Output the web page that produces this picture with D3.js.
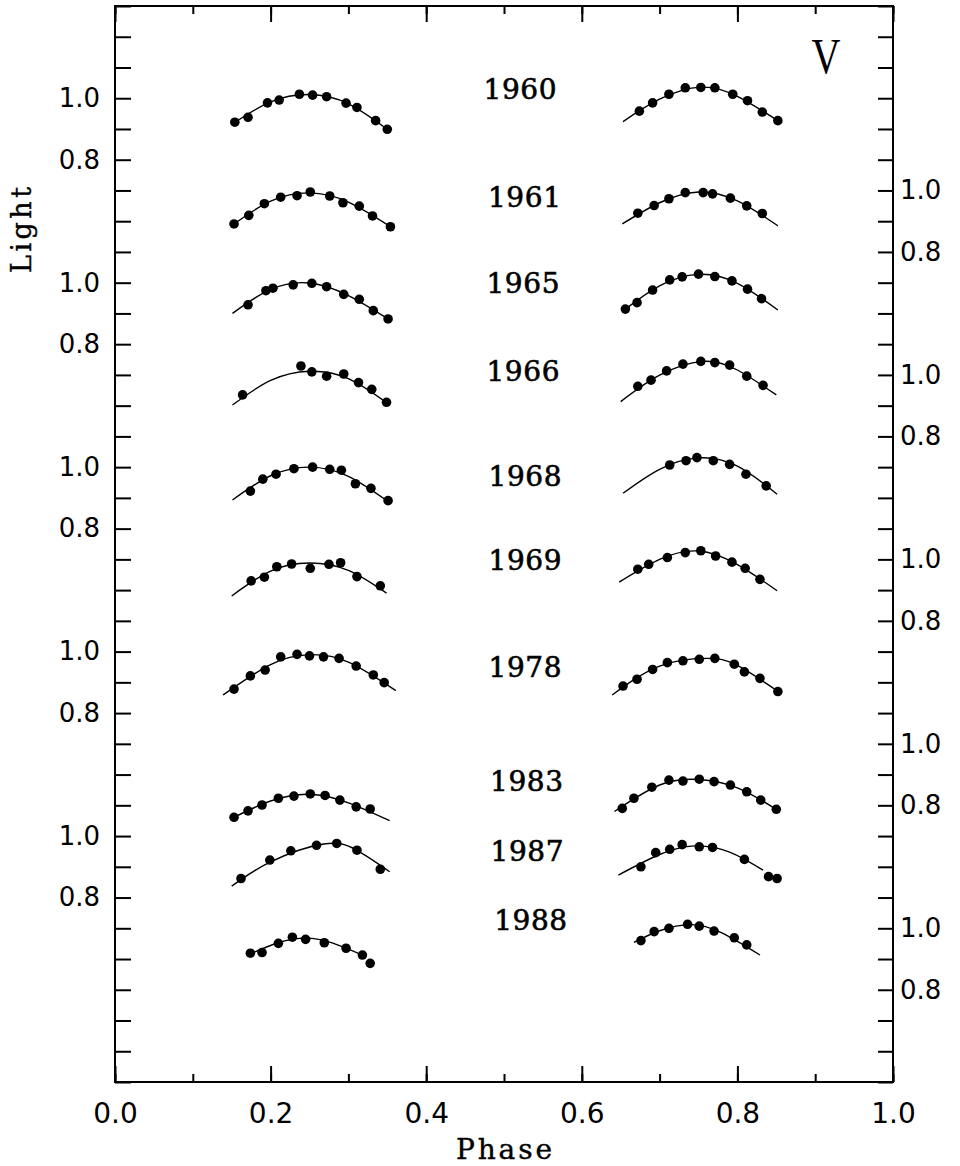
<!DOCTYPE html>
<html>
<head>
<meta charset="utf-8">
<script src="https://cdn.jsdelivr.net/npm/d3@7"></script>
<style>
  body { margin: 0; background: #fff; }
  svg { display: block; }
</style>
</head>
<body>
<script>
// years and their vertical offsets (in light units) on the shared axis
var years = ["1960", "1961", "1965", "1966", "1968", "1969", "1978", "1983", "1987", "1988"];
var offsets = [2.2, 1.9, 1.6, 1.3, 1.0, 0.7, 0.4, 0.1, -0.2, -0.5];

// observed points [phase, light]
var obs1960 = [[0.154,0.922],[0.171,0.938],[0.196,0.985],[0.211,0.994],[0.237,1.013],[0.254,1.010],[0.272,1.005],[0.297,0.984],[0.311,0.970],[0.335,0.927],[0.350,0.899],
               [0.674,0.958],[0.691,0.985],[0.712,1.013],[0.733,1.034],[0.753,1.035],[0.771,1.034],[0.794,1.013],[0.813,0.992],[0.832,0.955],[0.852,0.927]];
var obs1961 = [[0.153,0.891],[0.172,0.919],[0.192,0.957],[0.213,0.978],[0.234,0.983],[0.251,0.995],[0.276,0.982],[0.293,0.960],[0.314,0.949],[0.331,0.917],[0.354,0.882],
               [0.672,0.926],[0.693,0.951],[0.712,0.973],[0.733,0.993],[0.756,0.993],[0.768,0.989],[0.791,0.975],[0.812,0.950],[0.832,0.925]];
var obs1965 = [[0.171,0.928],[0.194,0.974],[0.203,0.982],[0.229,0.993],[0.253,0.998],[0.272,0.987],[0.294,0.962],[0.314,0.946],[0.332,0.909],[0.351,0.882],
               [0.656,0.914],[0.671,0.935],[0.691,0.976],[0.713,1.009],[0.729,1.019],[0.750,1.028],[0.771,1.020],[0.793,1.006],[0.813,0.979],[0.831,0.948]];
var obs1966 = [[0.164,0.935],[0.239,1.029],[0.253,1.010],[0.272,0.996],[0.294,1.003],[0.313,0.975],[0.330,0.953],[0.349,0.911],
               [0.672,0.963],[0.689,0.983],[0.709,1.013],[0.730,1.035],[0.753,1.044],[0.771,1.040],[0.790,1.032],[0.812,0.996],[0.833,0.966]];
var obs1968 = [[0.174,0.922],[0.190,0.961],[0.207,0.977],[0.230,0.995],[0.254,1.000],[0.276,0.993],[0.291,0.990],[0.309,0.946],[0.329,0.931],[0.351,0.891],
               [0.713,1.007],[0.734,1.021],[0.748,1.031],[0.769,1.021],[0.790,1.009],[0.811,0.977],[0.837,0.939]];
var obs1969 = [[0.175,0.930],[0.192,0.942],[0.208,0.976],[0.227,0.985],[0.251,0.971],[0.275,0.984],[0.290,0.989],[0.311,0.944],[0.341,0.914],
               [0.672,0.968],[0.686,0.984],[0.710,1.006],[0.733,1.022],[0.753,1.028],[0.772,1.011],[0.793,0.991],[0.810,0.971],[0.829,0.935]];
var obs1978 = [[0.153,0.878],[0.174,0.921],[0.193,0.940],[0.213,0.983],[0.234,0.991],[0.250,0.986],[0.268,0.983],[0.288,0.978],[0.310,0.953],[0.332,0.924],[0.346,0.899],
               [0.653,0.888],[0.671,0.910],[0.691,0.942],[0.710,0.964],[0.730,0.970],[0.751,0.975],[0.771,0.978],[0.796,0.959],[0.809,0.934],[0.829,0.913],[0.852,0.870]];
var obs1983 = [[0.153,0.761],[0.171,0.782],[0.189,0.801],[0.210,0.823],[0.230,0.830],[0.251,0.837],[0.270,0.832],[0.289,0.817],[0.310,0.795],[0.328,0.788],
               [0.652,0.790],[0.667,0.823],[0.690,0.859],[0.712,0.882],[0.730,0.879],[0.751,0.885],[0.770,0.877],[0.791,0.866],[0.812,0.844],[0.830,0.817],[0.850,0.787]];
var obs1987 = [[0.162,0.862],[0.199,0.922],[0.226,0.952],[0.259,0.970],[0.285,0.976],[0.311,0.954],[0.341,0.892],
               [0.676,0.900],[0.695,0.946],[0.713,0.957],[0.729,0.972],[0.751,0.965],[0.768,0.963],[0.809,0.924],[0.840,0.868],[0.851,0.862]];
var obs1988 = [[0.174,0.919],[0.189,0.921],[0.210,0.951],[0.228,0.971],[0.245,0.964],[0.269,0.953],[0.297,0.935],[0.318,0.913],[0.328,0.886],
               [0.676,0.960],[0.693,0.989],[0.712,1.000],[0.736,1.013],[0.751,1.007],[0.770,0.991],[0.796,0.969],[0.812,0.946]];

// fitted curves: [left branch, right branch]
var fit1960 = [[[0.154,0.921],[0.2,0.988],[0.25,1.012],[0.3,0.982],[0.35,0.899]], [[0.653,0.924],[0.7,0.997],[0.753,1.036],[0.8,1.006],[0.852,0.927]]];
var fit1961 = [[[0.153,0.891],[0.2,0.965],[0.25,0.992],[0.3,0.962],[0.354,0.882]], [[0.652,0.891],[0.7,0.960],[0.75,0.995],[0.8,0.966],[0.852,0.885]]];
var fit1965 = [[[0.151,0.900],[0.2,0.978],[0.25,0.999],[0.3,0.958],[0.351,0.882]], [[0.656,0.914],[0.7,0.990],[0.75,1.027],[0.8,0.998],[0.852,0.911]]];
var fit1966 = [[[0.151,0.902],[0.2,0.982],[0.25,1.012],[0.3,0.988],[0.35,0.908]], [[0.650,0.913],[0.7,0.999],[0.755,1.044],[0.8,1.016],[0.850,0.935]]];
var fit1968 = [[[0.151,0.893],[0.2,0.972],[0.25,1.000],[0.3,0.970],[0.351,0.888]], [[0.653,0.915],[0.7,0.993],[0.75,1.030],[0.8,1.003],[0.851,0.912]]];
var fit1969 = [[[0.150,0.881],[0.2,0.962],[0.25,0.988],[0.3,0.964],[0.349,0.890]], [[0.648,0.926],[0.7,1.000],[0.75,1.027],[0.8,0.983],[0.851,0.898]]];
var fit1978 = [[[0.139,0.859],[0.2,0.958],[0.25,0.990],[0.3,0.966],[0.361,0.873]], [[0.639,0.859],[0.7,0.953],[0.76,0.978],[0.8,0.955],[0.855,0.866]]];
var fit1983 = [[[0.153,0.761],[0.2,0.814],[0.25,0.836],[0.3,0.808],[0.353,0.750]], [[0.642,0.780],[0.7,0.866],[0.75,0.884],[0.8,0.857],[0.85,0.787]]];
var fit1987 = [[[0.150,0.837],[0.2,0.916],[0.268,0.974],[0.31,0.955],[0.353,0.884]], [[0.647,0.873],[0.7,0.940],[0.745,0.968],[0.79,0.948],[0.833,0.889]]];
var fit1988 = [[[0.174,0.917],[0.21,0.953],[0.245,0.968],[0.28,0.952],[0.318,0.913]], [[0.667,0.954],[0.7,0.992],[0.74,1.012],[0.78,0.985],[0.829,0.913]]];

var observations = [obs1960, obs1961, obs1965, obs1966, obs1968, obs1969, obs1978, obs1983, obs1987, obs1988];
var fits = [fit1960, fit1961, fit1965, fit1966, fit1968, fit1969, fit1978, fit1983, fit1987, fit1988];

// where each year label sits, in [phase, light] of that year
var yearLabelAt = [[0.5206,0.997],[0.5263,0.946],[0.5244,0.966],[0.5244,0.980],[0.527,0.939],[0.527,0.966],[0.527,0.917],[0.529,0.846],[0.5296,0.919],[0.5343,0.994]];

// tick labels
var xMajorTicks = [0, 0.2, 0.4, 0.6, 0.8, 1.0];
var xTickLabels = ["0.0", "0.2", "0.4", "0.6", "0.8", "1.0"];
var leftTickValues = [3.2, 3.0, 2.6, 2.4, 2.0, 1.8, 1.4, 1.2, 0.8, 0.6];
var leftTickLabels = ["1.0", "0.8", "1.0", "0.8", "1.0", "0.8", "1.0", "0.8", "1.0", "0.8"];
var rightTickValues = [2.9, 2.7, 2.3, 2.1, 1.7, 1.5, 1.1, 0.9, 0.5, 0.3];
var rightTickLabels = ["1.0", "0.8", "1.0", "0.8", "1.0", "0.8", "1.0", "0.8", "1.0", "0.8"];

var width = 960, height = 1166;
var plotLeft = 115, plotRight = 893, plotTop = 6, plotBottom = 1082;

var svg = d3.select("body")
  .append("svg")
  .attr("width", width)
  .attr("height", height);

var x = d3.scaleLinear().domain([0, 1]).range([plotLeft, plotRight]);
var y = d3.scaleLinear().domain([0, 3.5]).range([plotBottom, plotTop]);

var yTicks = d3.range(36).map(function(i) { return i / 10; });
var xMinor = d3.range(11).map(function(i) { return i / 10; });

function labelFor(values, labels) {
  return function(d) {
    for (var i = 0; i < values.length; i++) {
      if (Math.abs(values[i] - d) < 1e-6) return labels[i];
    }
    return "";
  };
}

function styleAxis(g, size) {
  g.select(".domain").remove();
  g.selectAll(".tick line").attr("stroke", "#000").attr("stroke-width", 2);
  g.selectAll("text")
    .attr("fill", "#000")
    .attr("font-family", "'DejaVu Sans', sans-serif")
    .attr("font-size", size);
}

// left axis
svg.append("g")
  .attr("transform", "translate(" + plotLeft + ",0)")
  .call(d3.axisLeft(y).tickValues(yTicks).tickSize(-16).tickSizeOuter(0).tickPadding(15)
        .tickFormat(labelFor(leftTickValues, leftTickLabels)))
  .call(styleAxis, 26);

// right axis
svg.append("g")
  .attr("transform", "translate(" + plotRight + ",0)")
  .call(d3.axisRight(y).tickValues(yTicks).tickSize(-15).tickSizeOuter(0).tickPadding(7)
        .tickFormat(labelFor(rightTickValues, rightTickLabels)))
  .call(styleAxis, 26);

// bottom axis, minor + major
svg.append("g")
  .attr("transform", "translate(0," + plotBottom + ")")
  .call(d3.axisBottom(x).tickValues(xMinor).tickSize(-8).tickSizeOuter(0).tickFormat(""))
  .call(styleAxis, 28);
svg.append("g")
  .attr("transform", "translate(0," + plotBottom + ")")
  .call(d3.axisBottom(x).tickValues(xMajorTicks).tickSize(-16).tickSizeOuter(0).tickPadding(21)
        .tickFormat(function(d, i) { return xTickLabels[i]; }))
  .call(styleAxis, 28);

// top axis
svg.append("g")
  .attr("transform", "translate(0," + plotTop + ")")
  .call(d3.axisTop(x).tickValues(xMinor).tickSize(-8).tickSizeOuter(0).tickFormat(""))
  .call(styleAxis, 28);
svg.append("g")
  .attr("transform", "translate(0," + plotTop + ")")
  .call(d3.axisTop(x).tickValues(xMajorTicks).tickSize(-16).tickSizeOuter(0).tickFormat(""))
  .call(styleAxis, 28);

// frame
svg.append("rect")
  .attr("x", plotLeft)
  .attr("y", plotTop)
  .attr("width", plotRight - plotLeft)
  .attr("height", plotBottom - plotTop)
  .attr("fill", "none")
  .attr("stroke", "#000")
  .attr("stroke-width", 2);

// curves and points
years.forEach(function(year, k) {
  var off = offsets[k];
  var line = d3.line()
    .x(function(d) { return x(d[0]); })
    .y(function(d) { return y(d[1] + off); })
    .curve(d3.curveNatural);

  svg.append("g")
    .selectAll("path")
    .data(fits[k])
    .enter()
    .append("path")
    .attr("d", line)
    .attr("fill", "none")
    .attr("stroke", "#000")
    .attr("stroke-width", 1.4);

  svg.append("g")
    .selectAll("circle")
    .data(observations[k])
    .enter()
    .append("circle")
    .attr("cx", function(d) { return x(d[0]); })
    .attr("cy", function(d) { return y(d[1] + off); })
    .attr("r", 4.8)
    .attr("fill", "#000");

  svg.append("text")
    .attr("x", x(yearLabelAt[k][0]))
    .attr("y", y(yearLabelAt[k][1] + off))
    .attr("text-anchor", "middle")
    .attr("font-family", "'DejaVu Serif', serif")
    .attr("font-size", 28)
    .attr("stroke", "#000")
    .attr("stroke-width", 0.6)
    .attr("textLength", 73)
    .attr("lengthAdjust", "spacing")
    .text(year);
});

// filter label
svg.append("text")
  .attr("x", x(0.914))
  .attr("y", y(3.283))
  .attr("text-anchor", "middle")
  .attr("font-family", "'Liberation Serif', serif")
  .attr("font-size", 50)
  .attr("textLength", 29)
  .attr("lengthAdjust", "spacingAndGlyphs")
  .text("V");

// axis titles
svg.append("text")
  .attr("transform", "translate(31,230) rotate(-90)")
  .attr("text-anchor", "middle")
  .attr("font-family", "'DejaVu Serif', serif")
  .attr("font-size", 27)
  .attr("stroke", "#000")
  .attr("stroke-width", 0.4)
  .attr("textLength", 86)
  .attr("lengthAdjust", "spacing")
  .text("Light");

svg.append("text")
  .attr("x", (plotLeft + plotRight) / 2)
  .attr("y", 1159)
  .attr("text-anchor", "middle")
  .attr("font-family", "'DejaVu Serif', serif")
  .attr("font-size", 28)
  .attr("stroke", "#000")
  .attr("stroke-width", 0.4)
  .attr("textLength", 96)
  .attr("lengthAdjust", "spacing")
  .text("Phase");
</script>
</body>
</html>
